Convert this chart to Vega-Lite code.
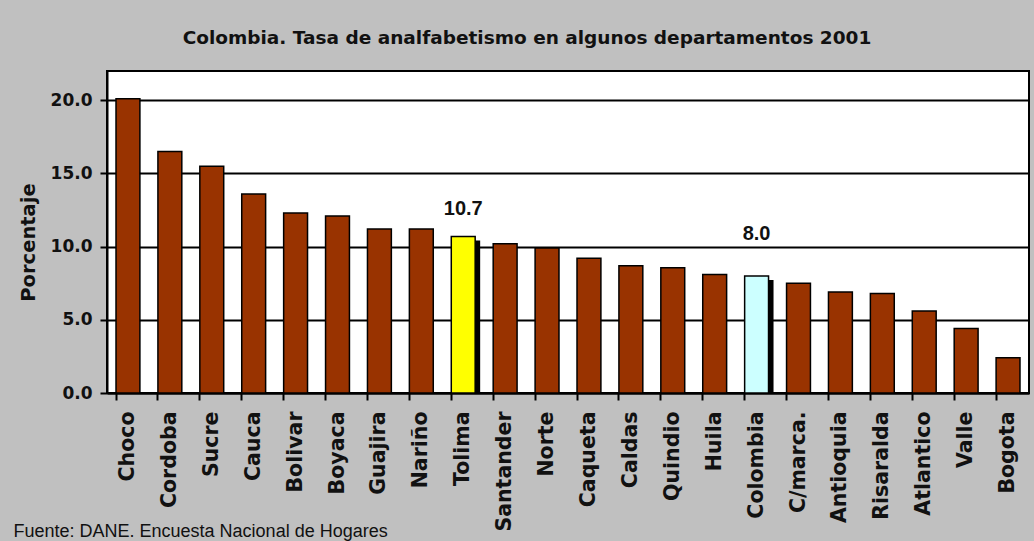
{
  "$schema": "https://vega.github.io/schema/vega-lite/v6.json",
  "autosize": "none",
  "width": 922,
  "height": 322,
  "padding": {"left": 107, "top": 71, "right": 5, "bottom": 148},
  "background": "#C0C0C0",
  "title": {
    "text": "Colombia. Tasa de analfabetismo en algunos departamentos 2001",
    "font": "DejaVu Sans",
    "fontSize": 18.5,
    "fontWeight": "bold",
    "color": "#111111",
    "anchor": "middle",
    "frame": "bounds",
    "dx": 6,
    "offset": 24
  },
  "data": {
    "values": [
      {"depto": "Choco", "tasa": 20.1, "tipo": "normal"},
      {"depto": "Cordoba", "tasa": 16.5, "tipo": "normal"},
      {"depto": "Sucre", "tasa": 15.5, "tipo": "normal"},
      {"depto": "Cauca", "tasa": 13.6, "tipo": "normal"},
      {"depto": "Bolivar", "tasa": 12.3, "tipo": "normal"},
      {"depto": "Boyaca", "tasa": 12.1, "tipo": "normal"},
      {"depto": "Guajira", "tasa": 11.2, "tipo": "normal"},
      {"depto": "Nariño", "tasa": 11.2, "tipo": "normal"},
      {"depto": "Tolima", "tasa": 10.7, "tipo": "Tolima"},
      {"depto": "Santander", "tasa": 10.2, "tipo": "normal"},
      {"depto": "Norte", "tasa": 9.9, "tipo": "normal"},
      {"depto": "Caqueta", "tasa": 9.2, "tipo": "normal"},
      {"depto": "Caldas", "tasa": 8.7, "tipo": "normal"},
      {"depto": "Quindio", "tasa": 8.55, "tipo": "normal"},
      {"depto": "Huila", "tasa": 8.1, "tipo": "normal"},
      {"depto": "Colombia", "tasa": 8.0, "tipo": "Colombia"},
      {"depto": "C/marca.", "tasa": 7.5, "tipo": "normal"},
      {"depto": "Antioquia", "tasa": 6.9, "tipo": "normal"},
      {"depto": "Risaralda", "tasa": 6.8, "tipo": "normal"},
      {"depto": "Atlantico", "tasa": 5.6, "tipo": "normal"},
      {"depto": "Valle", "tasa": 4.4, "tipo": "normal"},
      {"depto": "Bogota", "tasa": 2.4, "tipo": "normal"}
    ]
  },
  "encoding": {
    "x": {
      "field": "depto",
      "type": "nominal",
      "sort": null,
      "scale": {
        "domain": ["Choco", "Cordoba", "Sucre", "Cauca", "Bolivar", "Boyaca", "Guajira", "Nariño", "Tolima", "Santander", "Norte", "Caqueta", "Caldas", "Quindio", "Huila", "Colombia", "C/marca.", "Antioquia", "Risaralda", "Atlantico", "Valle", "Bogota"],
        "paddingInner": 0.43,
        "paddingOuter": 0.215
      },
      "axis": {
        "labelAngle": -90,
        "labelAlign": "right",
        "labelBaseline": "middle",
        "labelPadding": 11,
        "labelFontSize": 20.5,
        "tickSize": 7,
        "bandPosition": 0,
        "title": "Fuente: DANE. Encuesta Nacional de Hogares",
        "titleFont": "Liberation Sans",
        "titleFontWeight": "normal",
        "titleFontSize": 18,
        "titleColor": "#111111",
        "titleAnchor": "start",
        "titleAlign": "left",
        "titleBaseline": "alphabetic",
        "titleX": -94,
        "titleY": 143
      }
    },
    "y": {
      "field": "tasa",
      "type": "quantitative",
      "scale": {"domain": [0, 22], "nice": false},
      "axis": {
        "title": "Porcentaje",
        "values": [0, 5, 10, 15, 20],
        "format": ".1f",
        "tickSize": 7,
        "labelPadding": 8,
        "titlePadding": 12,
        "titleFontSize": 19.5,
        "titleY": 171,
        "grid": true,
        "gridColor": "#000000",
        "gridWidth": 2,
        "gridOpacity": 1
      }
    }
  },
  "layer": [
    {
      "transform": [{"filter": "datum.tipo !== 'normal'"}],
      "mark": {"type": "bar", "color": "#000000", "xOffset": 5, "yOffset": 4, "clip": true}
    },
    {
      "mark": {"type": "bar", "stroke": "#000000", "strokeWidth": 1.5},
      "encoding": {
        "color": {
          "field": "tipo",
          "type": "nominal",
          "scale": {"domain": ["normal", "Tolima", "Colombia"], "range": ["#993300", "#FFFF00", "#CCFFFF"]},
          "legend": null
        }
      }
    },
    {
      "transform": [{"filter": "datum.tipo === 'Tolima'"}],
      "mark": {"type": "text", "baseline": "alphabetic", "dy": -21, "font": "Liberation Sans", "fontSize": 20, "fontWeight": "bold", "color": "#111111"},
      "encoding": {
        "text": {"field": "tasa", "type": "quantitative", "format": ".1f"}
      }
    },
    {
      "transform": [{"filter": "datum.tipo === 'Colombia'"}],
      "mark": {"type": "text", "baseline": "alphabetic", "dy": -36, "font": "Liberation Sans", "fontSize": 20, "fontWeight": "bold", "color": "#111111"},
      "encoding": {
        "text": {"field": "tasa", "type": "quantitative", "format": ".1f"}
      }
    }
  ],
  "config": {
    "view": {"fill": "#FFFFFF", "stroke": "#000000", "strokeWidth": 2},
    "axis": {
      "labelFont": "DejaVu Sans",
      "labelFontSize": 17,
      "labelFontWeight": "bold",
      "labelColor": "#111111",
      "titleFont": "DejaVu Sans",
      "titleFontSize": 18,
      "titleFontWeight": "bold",
      "titleColor": "#111111",
      "domainColor": "#000000",
      "domainWidth": 2,
      "tickColor": "#000000",
      "tickWidth": 2
    }
  }
}
